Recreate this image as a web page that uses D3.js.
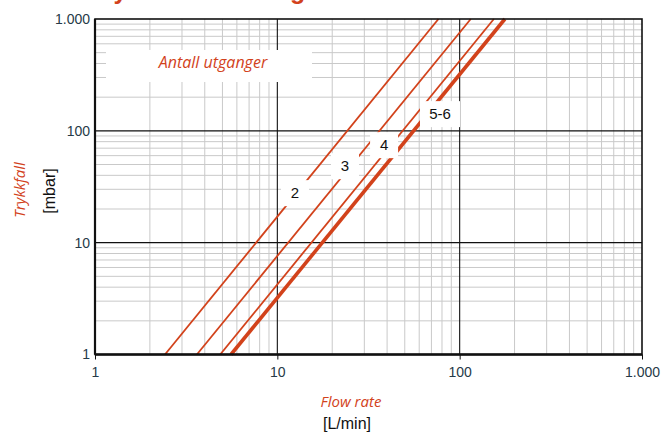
<!DOCTYPE html>
<html>
<head>
<meta charset="utf-8">
<script src="https://cdn.jsdelivr.net/npm/d3@7"></script>
<style>
  body { margin: 0; background: #fff; }
  svg { display: block; }
</style>
</head>
<body>
<svg id="chart"></svg>
<script>
// lines: number of outlets, flow (L/min) where the line hits 1 mbar and 1000 mbar
var outlets = ["2", "3", "4", "5-6"];
var flowAtLow = [2.42, 3.62, 4.86, 5.57];
var flowAtHigh = [76.5, 115, 154, 177];
var pressureEnds = [1, 1000];

// label anchors in data units
var labelFlow = [12.5, 23.5, 38.5, 78];
var labelPressure = [28.3, 49.3, 76, 144];

var tickValues = [1, 10, 100, 1000];
var tickLabels = ["1", "10", "100", "1.000"];

var screen = { width: 661, height: 432 };
var margins = { top: 19, bottom: 77.5, left: 95, right: 19 };
var width = screen.width - margins.left - margins.right;
var height = screen.height - margins.top - margins.bottom;

var red = "#d2421b";

var svg = d3.select("#chart")
  .attr("width", screen.width)
  .attr("height", screen.height);

var xScale = d3.scaleLog()
  .domain([1, 1000])
  .range([margins.left, margins.left + width]);
var yScale = d3.scaleLog()
  .domain([1, 1000])
  .range([margins.top + height, margins.top]);

// cut-off title at the very top
svg.append("text")
  .attr("x", 90).attr("y", -1)
  .attr("font-family", "Liberation Sans, Arial, sans-serif")
  .attr("font-size", 25).attr("font-weight", "bold")
  .attr("fill", red)
  .text("Trykkfall fordeling");

// minor grid
var minors = [];
[1, 10, 100].forEach(function(dec) {
  for (var k = 2; k <= 9; k++) minors.push(dec * k);
});

var grid = svg.append("g");
grid.selectAll("line.vx")
  .data(minors).enter().append("line")
  .attr("x1", function(d) { return xScale(d); })
  .attr("x2", function(d) { return xScale(d); })
  .attr("y1", yScale(1000)).attr("y2", yScale(1))
  .attr("stroke", "#c9c9c9").attr("stroke-width", 1);
grid.selectAll("line.hy")
  .data(minors).enter().append("line")
  .attr("y1", function(d) { return yScale(d); })
  .attr("y2", function(d) { return yScale(d); })
  .attr("x1", xScale(1)).attr("x2", xScale(1000))
  .attr("stroke", "#c9c9c9").attr("stroke-width", 1);

// major decade lines
grid.selectAll("line.mx")
  .data([10, 100]).enter().append("line")
  .attr("x1", function(d) { return xScale(d); })
  .attr("x2", function(d) { return xScale(d); })
  .attr("y1", yScale(1000)).attr("y2", yScale(1))
  .attr("stroke", "#111").attr("stroke-width", 1.1);
grid.selectAll("line.my")
  .data([10, 100]).enter().append("line")
  .attr("y1", function(d) { return yScale(d); })
  .attr("y2", function(d) { return yScale(d); })
  .attr("x1", xScale(1)).attr("x2", xScale(1000))
  .attr("stroke", "#111").attr("stroke-width", 1.1);

// pressure drop lines
var lineGen = d3.line()
  .x(function(d) { return xScale(d[0]); })
  .y(function(d) { return yScale(d[1]); });

outlets.forEach(function(o, i) {
  svg.append("path")
    .datum([[flowAtLow[i], pressureEnds[0]], [flowAtHigh[i], pressureEnds[1]]])
    .attr("d", lineGen)
    .attr("fill", "none")
    .attr("stroke", red)
    .attr("stroke-width", i == 3 ? 3.6 : 1.8);
});

// frame
svg.append("rect")
  .attr("x", xScale(1)).attr("y", yScale(1000))
  .attr("width", xScale(1000) - xScale(1))
  .attr("height", yScale(1) - yScale(1000))
  .attr("fill", "none").attr("stroke", "#111").attr("stroke-width", 1.6);
svg.append("line")
  .attr("x1", xScale(1)).attr("x2", xScale(1000))
  .attr("y1", yScale(1)).attr("y2", yScale(1))
  .attr("stroke", "#111").attr("stroke-width", 2.4);
svg.append("line")
  .attr("x1", xScale(1)).attr("x2", xScale(1))
  .attr("y1", yScale(1000)).attr("y2", yScale(1))
  .attr("stroke", "#111").attr("stroke-width", 2.2);

// line labels on white boxes
var labelWidths = [28, 28, 28, 40];
outlets.forEach(function(o, i) {
  var cx = xScale(labelFlow[i]), cy = yScale(labelPressure[i]);
  svg.append("rect")
    .attr("x", cx - labelWidths[i] / 2).attr("y", cy - 12)
    .attr("width", labelWidths[i]).attr("height", 26)
    .attr("fill", "#fff");
  svg.append("text")
    .attr("x", cx).attr("y", cy + 5.5)
    .attr("text-anchor", "middle")
    .attr("font-family", "Liberation Sans, Arial, sans-serif")
    .attr("font-size", 15)
    .attr("fill", "#111")
    .text(o);
});

// legend title box
svg.append("rect")
  .attr("x", 106).attr("y", 50)
  .attr("width", 206).attr("height", 32)
  .attr("fill", "#fff");
svg.append("text")
  .attr("x", 213).attr("y", 68)
  .attr("text-anchor", "middle")
  .attr("font-family", "Open Sans, sans-serif")
  .attr("font-style", "italic")
  .attr("font-size", 16)
  .attr("fill", red)
  .text("Antall utganger");

// axes
var xAxis = d3.axisBottom(xScale)
  .tickValues(tickValues)
  .tickFormat(function(d, i) { return tickLabels[i]; })
  .tickSize(5).tickPadding(8);
var xa = svg.append("g")
  .attr("transform", "translate(0," + yScale(1) + ")")
  .call(xAxis);
xa.select(".domain").remove();
xa.selectAll("line").attr("stroke", "#111");

var yAxis = d3.axisLeft(yScale)
  .tickValues(tickValues)
  .tickFormat(function(d, i) { return tickLabels[i]; })
  .tickSize(0).tickPadding(5);
var ya = svg.append("g")
  .attr("transform", "translate(" + xScale(1) + ",0)")
  .call(yAxis);
ya.select(".domain").remove();

svg.selectAll(".tick text")
  .attr("font-family", "Liberation Sans, Arial, sans-serif")
  .attr("font-size", 14)
  .attr("fill", "#263a48");

// axis titles
svg.append("text")
  .attr("x", 351).attr("y", 407)
  .attr("text-anchor", "middle")
  .attr("font-family", "Open Sans, sans-serif")
  .attr("font-style", "italic")
  .attr("font-size", 15)
  .attr("fill", red)
  .text("Flow rate");
svg.append("text")
  .attr("x", 347).attr("y", 429)
  .attr("text-anchor", "middle")
  .attr("font-family", "Liberation Sans, Arial, sans-serif")
  .attr("font-size", 16)
  .attr("fill", "#111")
  .text("[L/min]");

svg.append("text")
  .attr("transform", "translate(25,190) rotate(-90)")
  .attr("text-anchor", "middle")
  .attr("font-family", "Open Sans, sans-serif")
  .attr("font-style", "italic")
  .attr("font-size", 15)
  .attr("fill", red)
  .text("Trykkfall");
svg.append("text")
  .attr("transform", "translate(55,191) rotate(-90)")
  .attr("text-anchor", "middle")
  .attr("font-family", "Liberation Sans, Arial, sans-serif")
  .attr("font-size", 16)
  .attr("fill", "#111")
  .text("[mbar]");
</script>
</body>
</html>
